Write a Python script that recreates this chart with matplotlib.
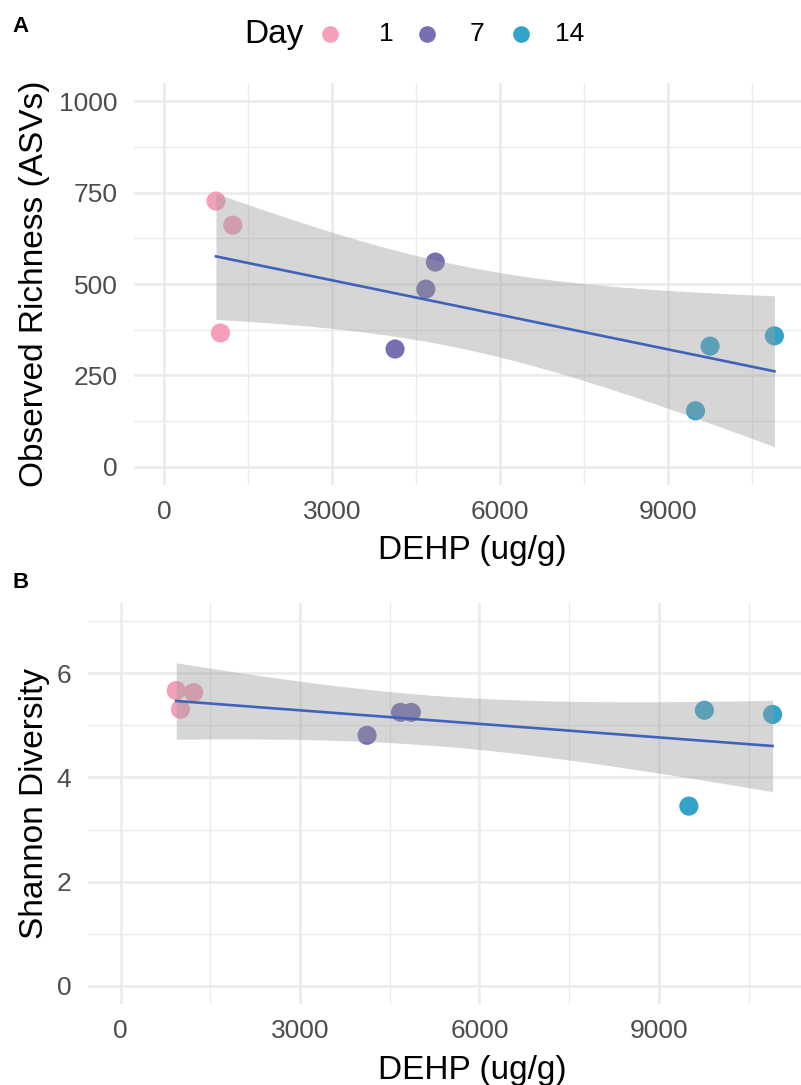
import numpy as np
import matplotlib
matplotlib.use("Agg")
import matplotlib.pyplot as plt
from matplotlib.lines import Line2D

plt.rcParams['font.family'] = ['Liberation Sans', 'DejaVu Sans']

# ---- data ----
day = [1, 1, 1, 7, 7, 7, 14, 14, 14]
dehp = [920, 1220, 1000, 4840, 4670, 4120, 9750, 9490, 10900]
richness = [727, 661, 366, 560, 486, 322, 330, 153, 358]
dehp_b = [930, 1220, 1000, 4680, 4860, 4120, 9760, 9500, 10900]
shannon = [5.67, 5.63, 5.31, 5.25, 5.25, 4.81, 5.29, 3.45, 5.21]
day_levels = [1, 7, 14]
day_colors = ["#F4A0B8", "#7670B3", "#34A3CA"]
x_ticks = [0, 3000, 6000, 9000]
x_minor = [1500, 4500, 7500, 10500]
a_yticks = [0, 250, 500, 750, 1000]
a_yminor = [125, 375, 625, 875]
b_yticks = [0, 2, 4, 6]
b_yminor = [1, 3, 5, 7]

W, H = 801, 1085
fig = plt.figure(figsize=(W / 100, H / 100), dpi=100)

GRID = "#EBEBEB"
T_CRIT = 2.3646  # t(0.975, df=7)


def lm_band(x, y):
    x = np.asarray(x, float)
    y = np.asarray(y, float)
    n = len(x)
    b1, b0 = np.polyfit(x, y, 1)
    res = y - (b0 + b1 * x)
    s = np.sqrt(np.sum(res ** 2) / (n - 2))
    xm = x.mean()
    sxx = np.sum((x - xm) ** 2)
    xs = np.linspace(x.min(), x.max(), 80)
    fit = b0 + b1 * xs
    se = s * np.sqrt(1 / n + (xs - xm) ** 2 / sxx)
    return xs, fit, fit - T_CRIT * se, fit + T_CRIT * se


def panel(left, bottom_px, top_px, xs, ys, yticks, yminor, ylim, ylabel):
    width = 1 - left / W
    ax = fig.add_axes([left / W, 1 - bottom_px / H, width, (bottom_px - top_px) / H])
    ax.set_facecolor("white")
    for s in ax.spines.values():
        s.set_visible(False)
    ax.set_xlim(-545, 11375)
    ax.set_ylim(*ylim)
    for v in x_minor:
        ax.axvline(v, color=GRID, lw=0.95, zorder=0)
    for v in yminor:
        ax.axhline(v, color=GRID, lw=0.95, zorder=0)
    for v in x_ticks:
        ax.axvline(v, color=GRID, lw=1.8, zorder=0)
    for v in yticks:
        ax.axhline(v, color=GRID, lw=1.8, zorder=0)
    ax.set_xticks(x_ticks)
    ax.set_yticks(yticks)
    ax.tick_params(length=0, labelsize=19, labelcolor="#4D4D4D")
    ax.tick_params(axis="y", pad=12)
    ax.tick_params(axis="x", pad=11)
    ax.set_xlabel("DEHP (ug/g)", fontsize=24, va="center")
    ax.set_ylabel(ylabel, fontsize=24, va="center")
    aw = W - left
    ax.xaxis.set_label_coords((472 - left) / aw, -66 / (bottom_px - top_px))
    ax.yaxis.set_label_coords((35 - left) / aw, 0.5)
    cols = [day_colors[day_levels.index(d)] for d in day]
    ax.scatter(xs, ys, s=190, c=cols, linewidths=0, zorder=2)
    gx, fit, lo, hi = lm_band(xs, ys)
    ax.fill_between(gx, lo, hi, color="#999999", alpha=0.4, linewidth=0, zorder=3)
    ax.plot(gx, fit, color="#4062B8", lw=1.9, zorder=4)
    return ax


axA = panel(134, 485, 83, dehp, richness, a_yticks, a_yminor, (-50, 1050),
            "Observed Richness (ASVs)")
axB = panel(88, 1004, 603, dehp_b, shannon, b_yticks, b_yminor, (-0.35, 7.35),
            "Shannon Diversity")

fig.text(12 / W, 1 - 26 / H, "A", fontsize=16, fontweight="bold", va="center", ha="left")
fig.text(12 / W, 1 - 583 / H, "B", fontsize=16, fontweight="bold", va="center", ha="left")

# legend
ly = 1 - 34 / H
fig.text(244 / W, ly, "Day", fontsize=24, va="center", ha="left")
mx = [330, 427, 521]
tx = [379, 470, 555]
for d, c, m, t in zip(day_levels, day_colors, mx, tx):
    fig.add_artist(Line2D([m / W], [ly], marker="o", markersize=12, color=c,
                          markeredgewidth=0, linestyle="none",
                          transform=fig.transFigure))
    fig.text(t / W, ly, str(d), fontsize=19, va="center", ha="left")

fig.savefig("out.png", dpi=100, facecolor="white")
